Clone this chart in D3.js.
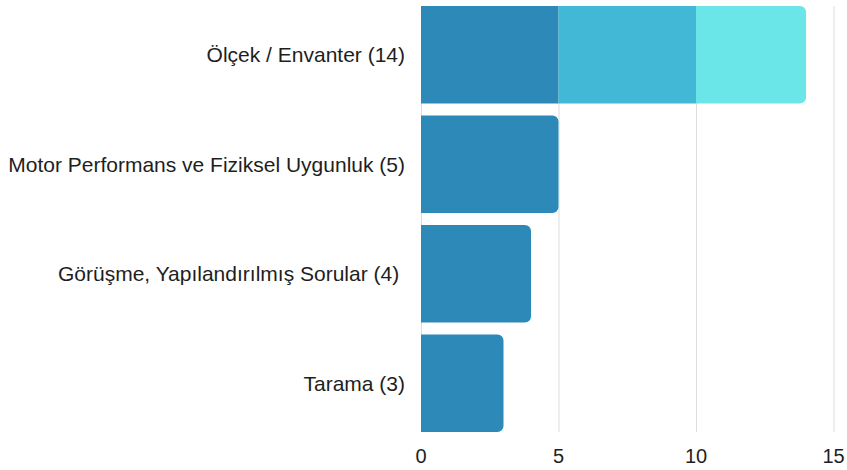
<!DOCTYPE html>
<html>
<head>
<meta charset="utf-8">
<script src="https://cdn.jsdelivr.net/npm/d3@7"></script>
<style>
  body { margin: 0; background: #fff; }
  text { font-family: "Liberation Sans", Arial, sans-serif; }
</style>
</head>
<body>
<div id="chart"></div>
<script>
var categories = [
  "Ölçek / Envanter (14)",
  "Motor Performans ve Fiziksel Uygunluk (5)",
  "Görüşme, Yapılandırılmış Sorular (4)\u00a0",
  "Tarama (3)"
];
var part1 = [5, 5, 4, 3];
var part2 = [5, 0, 0, 0];
var part3 = [4, 0, 0, 0];
var ticks = [0, 5, 10, 15];
var colors = ["#2d8ab8", "#43b7d6", "#6be6e8"];

var width = 847, height = 470;

var svg = d3.select("#chart")
  .append("svg")
  .attr("width", width)
  .attr("height", height);

var x = d3.scaleLinear().domain([0, 15]).range([421, 833.5]);
var y = d3.scaleBand().domain(categories).range([6, 432]).paddingInner(0.11).paddingOuter(0);

var rows = categories.map(function(c, i) {
  return {cat: c, a: part1[i], b: part2[i], c: part3[i]};
});
var series = d3.stack().keys(["a", "b", "c"])(rows);

// grid
svg.selectAll(".grid")
  .data(ticks)
  .enter()
  .append("line")
  .attr("x1", function(d) { return x(d) + 0.5; })
  .attr("x2", function(d) { return x(d) + 0.5; })
  .attr("y1", 6)
  .attr("y2", 432)
  .attr("stroke", "#dddddd")
  .attr("stroke-width", 1);

// find last non-empty segment per row for rounding
var lastKey = rows.map(function(r) {
  return r.c > 0 ? 2 : (r.b > 0 ? 1 : 0);
});

function barPath(x0, x1, y0, h, round) {
  var r = round ? Math.min(6, (x1 - x0) / 2) : 0;
  var p = d3.path();
  p.moveTo(x0, y0);
  p.lineTo(x1 - r, y0);
  if (r) p.arcTo(x1, y0, x1, y0 + r, r);
  p.lineTo(x1, y0 + h - r);
  if (r) p.arcTo(x1, y0 + h, x1 - r, y0 + h, r);
  p.lineTo(x0, y0 + h);
  p.closePath();
  return p.toString();
}

series.forEach(function(s, si) {
  svg.append("g")
    .selectAll("path")
    .data(s.filter(function(d) { return d[1] > d[0]; }))
    .enter()
    .append("path")
    .attr("d", function(d) {
      var idx = categories.indexOf(d.data.cat);
      return barPath(x(d[0]), x(d[1]), y(d.data.cat), y.bandwidth(), lastKey[idx] === si);
    })
    .attr("fill", colors[si]);
});

// category labels
svg.selectAll(".lab")
  .data(categories)
  .enter()
  .append("text")
  .attr("x", 405)
  .attr("y", function(d) { return y(d) + y.bandwidth() / 2; })
  .attr("dy", "0.35em")
  .attr("text-anchor", "end")
  .attr("fill", "#1e1e1e")
  .style("font-size", "21px")
  .text(function(d) { return d; });

// x tick labels
svg.selectAll(".tick")
  .data(ticks)
  .enter()
  .append("text")
  .attr("x", function(d) { return x(d); })
  .attr("y", 456)
  .attr("dy", "0.35em")
  .attr("text-anchor", "middle")
  .attr("fill", "#1e1e1e")
  .style("font-size", "20px")
  .text(function(d) { return d; });
</script>
</body>
</html>
